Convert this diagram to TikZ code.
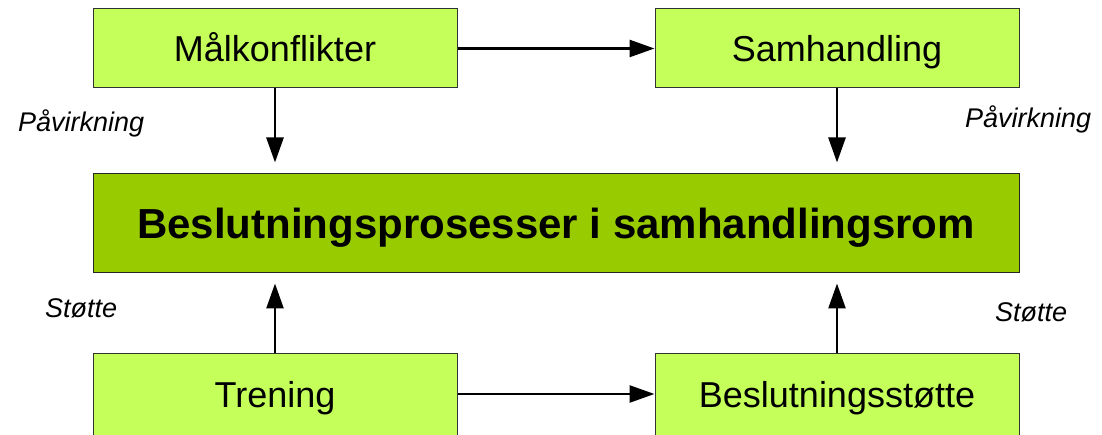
\documentclass[tikz,border=0pt]{standalone}
\usepackage{fontspec}
\setmainfont{Liberation Sans}
\usetikzlibrary{arrows.meta}
\definecolor{lightg}{HTML}{C4FF5A}
\definecolor{darkg}{HTML}{99CC00}
\begin{document}
\begin{tikzpicture}[x=1pt,y=-1pt,
  box/.style={draw=black!80, line width=1pt, fill=lightg, minimum width=364pt, minimum height=79pt, inner sep=0pt, font=\fontsize{36}{40}\selectfont, text height=26pt, text depth=0pt},
  bigbox/.style={draw=black!85, line width=1pt, fill=darkg, minimum width=926pt, minimum height=99pt, inner sep=0pt, font=\fontsize{42}{46}\selectfont\bfseries, text height=30pt, text depth=0pt},
  txt/.style={inner sep=0pt, font=\fontsize{36}{40}\selectfont, text height=26pt, text depth=0pt},
  lbl/.style={inner sep=0pt, anchor=base west, font=\fontsize{27}{30}\selectfont\itshape},
  arr/.style={line width=2.6pt, -{Triangle[length=25pt,width=17pt]}}
]
\useasboundingbox (0,0) rectangle (1102,435);
\clip (0,0) rectangle (1102,435);
\node[box] (mk) at (275,48.5) {Målkonflikter};
\node[box] (sh) at (837,48.5) {Samhandling};
\node[bigbox] (bp) at (556,223.5) {Beslutningsprosesser i samhandlingsrom};
\node[box, minimum height=95pt] (tr) at (275,400.5) {};
\node[box, minimum height=95pt] (bs) at (837,400.5) {};
\node[txt] (trt) at (275,394) {Trening};
\node[txt] (bst) at (837,394) {Beslutningsstøtte};
\node[lbl] (l1) at (18,132) {Påvirkning};
\node[lbl] (l2) at (965,128) {Påvirkning};
\node[lbl] (l3) at (45,317) {Støtte};
\node[lbl] (l4) at (995,322) {Støtte};
\draw[arr] (mk.east) -- (sh.west);
\draw[arr] (tr.east |- trt) -- (bs.west |- bst);
\draw[arr, shorten >=11pt] (mk.south) -- (mk.south |- bp.north);
\draw[arr, shorten >=11pt] (sh.south) -- (sh.south |- bp.north);
\draw[arr, shorten >=10pt] (tr.north) -- (tr.north |- bp.south);
\draw[arr, shorten >=10pt] (bs.north) -- (bs.north |- bp.south);
\end{tikzpicture}
\end{document}
